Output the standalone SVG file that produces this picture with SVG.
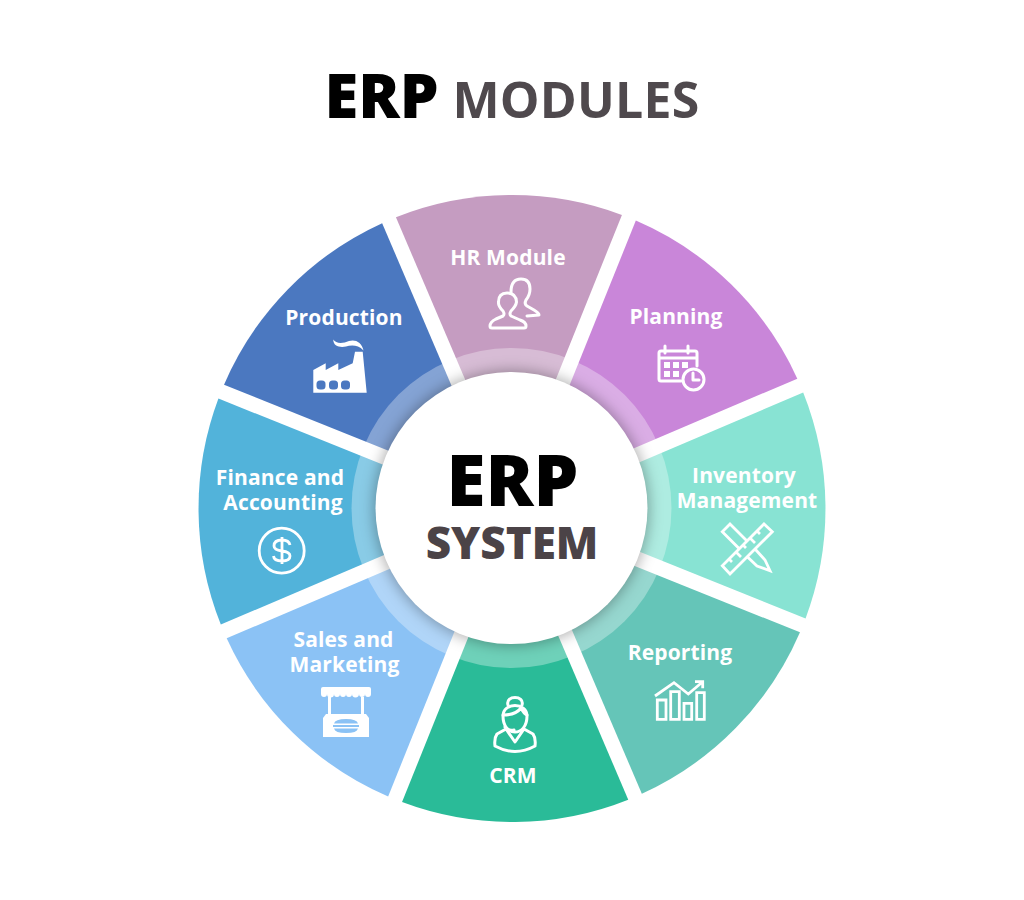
<svg xmlns="http://www.w3.org/2000/svg" width="1024" height="900" viewBox="0 0 1024 900">
<style>
text{font-family:"Open Sans","Noto Sans","Liberation Sans",sans-serif;text-anchor:middle}
.l{font-size:21px;font-weight:700;fill:#fff;letter-spacing:.15px}
.s{fill:none;stroke:#fff;stroke-width:3;stroke-linecap:round;stroke-linejoin:round}
.t{fill:none;stroke:#fff;stroke-width:2.8;stroke-linejoin:miter}
.f{fill:#fff}
</style>
<defs>
<filter id="sh" x="-20%" y="-20%" width="140%" height="140%"><feGaussianBlur stdDeviation="7"/></filter>
</defs>
<rect width="1024" height="900" fill="#fff"/>
<g id="title">
<text x="381.500" y="118" font-size="61.500" font-weight="800" fill="#000">ERP</text>
<text x="576" y="118" font-size="50" font-weight="700" fill="#4f494d" letter-spacing=".2">MODULES</text>
</g>
<g id="hr"><path d="M512,489 L625,216.100 A313.500,313.500 0 0 0 399,216.100 Z" fill="#c59cc1" transform="rotate(-0.6 512 508.500)"/>
<text class="l" x="508" y="265">HR Module</text>
<path class="s" d="M511,292 Q511,279 521,279 Q530,279 530,289 Q530,295 526,300 Q524,304 527,306 L534,310 Q539,313 539,315 L527,316"/>
<path class="s" d="M490,326 Q490,322 496,319 L503,316 Q505,314 503,311 Q498,306 498.500,302 Q498.500,293 507,293 Q516,293 516.500,302 Q516,306 511,311 Q509,314 511,316 L520,320 Q526,322 526,326 Q526,328 524,328 L492,328 Q490,328 490,326Z"/>
</g>
<g id="planning"><path d="M512,489 L625,216.100 A313.500,313.500 0 0 0 399,216.100 Z" fill="#c986d9" transform="rotate(44.400 512 508.500)"/>
<text class="l" x="676" y="324">Planning</text>
<path class="s" d="M681,381 L661,381 Q659,381 659,379 L659,353 Q659,351 661,351 L695,351 Q697,351 697,353 L697,366 M659,358 L697,358 M665,346 L665,353 M688,346 L688,353"/>
<path class="f" d="M664,362h6v6h-6zM673,362h6v6h-6zM682,362h6v6h-6zM664,371h6v6h-6zM673,371h6v6h-6z"/>
<circle class="s" cx="693.500" cy="379.500" r="10.500" style="fill:#c986d9"/>
<path class="s" d="M693,373 L693,380 L699,380"/>
</g>
<g id="inventory"><path d="M512,489 L625,216.100 A313.500,313.500 0 0 0 399,216.100 Z" fill="#88e3d3" transform="rotate(89.400 512 508.500)"/>
<text class="l" x="744" y="483">Inventory</text>
<text class="l" x="747" y="508">Management</text>
<path class="t" d="M722.300,565.700 L730,574 L772.300,531.700 L764,524 Z"/>
<path class="t" d="M729,559l3,3M736,552l5,5M743,545l3,3M750,538l5,5M757,531l3,3"/>
<path class="t" d="M747,541 L730,524 L722.300,531.700 L739.300,548.700"/>
<path class="t" d="M755,549 L765,560 L770,570.700 L757,566 L747.300,556.700"/>
</g>
<g id="reporting"><path d="M512,489 L625,216.100 A313.500,313.500 0 0 0 399,216.100 Z" fill="#65c5b8" transform="rotate(134.400 512 508.500)"/>
<text class="l" x="680" y="660">Reporting</text>
<path class="t" d="M657.300,700h8.700v19.300h-8.700zM670.700,691.700h8.600v27.600h-8.600zM684,703.300h7.700v16h-7.700zM696.700,692.700h7.600v26.600h-7.600z"/>
<path class="t" d="M655,696 L674,682.700 L688.300,694 L702.700,681.700 M695,681.700 L702.700,681.700 L702.700,688.300"/>
</g>
<g id="crm"><path d="M512,489 L625,216.100 A313.500,313.500 0 0 0 398.800,216.100 Z" fill="#2abb98" transform="rotate(179.400 512 508.500)"/>
<text class="l" x="513" y="783">CRM</text>
<path class="s" d="M503,716 C503,702 527,702 527,716 C527,727 521,732 515,732 C509,732 503,727 503,716 Z"/>
<path class="s" d="M503,715 C511,715 518,712 521,708 C523,712 525,714 527,715 M508,705 C505,695 525,695 522,705"/>
<path class="s" d="M505,727 Q508,731 514,730" stroke-width="2"/>
<path class="s" d="M506,729 L497,734 Q494,738 495,746 Q515,757 535,746 Q536,738 533,734 L524,729 L515,742 Z"/>
</g>
<g id="sales"><path d="M512,489 L625,216.100 A313.500,313.500 0 0 0 399,216.100 Z" fill="#8bc2f5" transform="rotate(224.400 512 508.500)"/>
<text class="l" x="343.500" y="647">Sales and</text>
<text class="l" x="344.500" y="672">Marketing</text>
<path class="f" d="M323,687 L369,687 Q371,687 371,689 L371,694 A3,3 0 0 1 365,694 A3,3 0 0 1 359,694 A3,3 0 0 1 352,694 A3,3 0 0 1 346,694 A3,3 0 0 1 340,694 A3,3 0 0 1 334,694 A3,3 0 0 1 327,694 A3,3 0 0 1 321,694 L321,689 Q321,687 323,687 Z"/>
<path class="f" d="M328,697h3v18h-3zM361,697h3v18h-3zM326,714 L366,714 L369,718 L369,737 L323,737 L323,718 Z"/>
<path d="M334,723.500 Q335,719 346,719 Q357,719 358,723.500 Z M333,725 L359,725 L359,727 L333,727 Z M334,728.500 Q335,733 346,733 Q357,733 358,728.500 Z" fill="#8bc2f5"/>
</g>
<g id="finance"><path d="M512,489 L625,216.100 A313.500,313.500 0 0 0 399,216.100 Z" fill="#52b3da" transform="rotate(269.400 512 508.500)"/>
<text class="l" x="280" y="485">Finance and</text>
<text class="l" x="283" y="510">Accounting</text>
<circle class="t" cx="281.700" cy="550.700" r="22.500"/>
<path class="t" d="M282,537 L282,564 M290,545 Q289,540 282,540 Q274,540 274,546 Q274,550 282,551 Q290,552 290,556 Q290,561 282,561 Q274,561 273.500,556"/>
</g>
<g id="production"><path d="M512,489 L625,216.100 A313.500,313.500 0 0 0 399,216.100 Z" fill="#4b78c0" transform="rotate(314.400 512 508.500)"/>
<text class="l" x="344" y="325">Production</text>
<path class="f" d="M313.300,370 L325.700,363.300 L325.700,370 L338.300,363.300 L338.300,370 L352.700,363.300 L355,351.700 L362.700,351.700 L366.700,392.700 L313.300,392.700 Z"/>
<path class="f" d="M333.300,339.500 C336,344 343,343.500 349,341 C355,339 362,342 363.500,350.500 C358,344.500 351,345 346,346.500 C340,348 333,346 333.300,339.500 Z"/>
<rect x="316.500" y="380.500" width="9" height="9" rx="3.500" fill="#4b78c0"/><rect x="329" y="380.500" width="9" height="9" rx="3.500" fill="#4b78c0"/><rect x="341" y="380.500" width="9" height="9" rx="3.500" fill="#4b78c0"/>
</g>
<g id="center">
<circle cx="511.500" cy="508" r="160" fill="#fff" fill-opacity=".32"/>
<circle cx="511.500" cy="508" r="138" fill="#000" fill-opacity=".3" filter="url(#sh)"/>
<circle cx="511.500" cy="508" r="136" fill="#fff"/>
<text x="512.500" y="506" font-size="71" font-weight="800" fill="#000">ERP</text>
<text x="512" y="559" font-size="44" font-weight="800" fill="#4b4347">SYSTEM</text>
</g>
<g id="connectors"/>
</svg>
